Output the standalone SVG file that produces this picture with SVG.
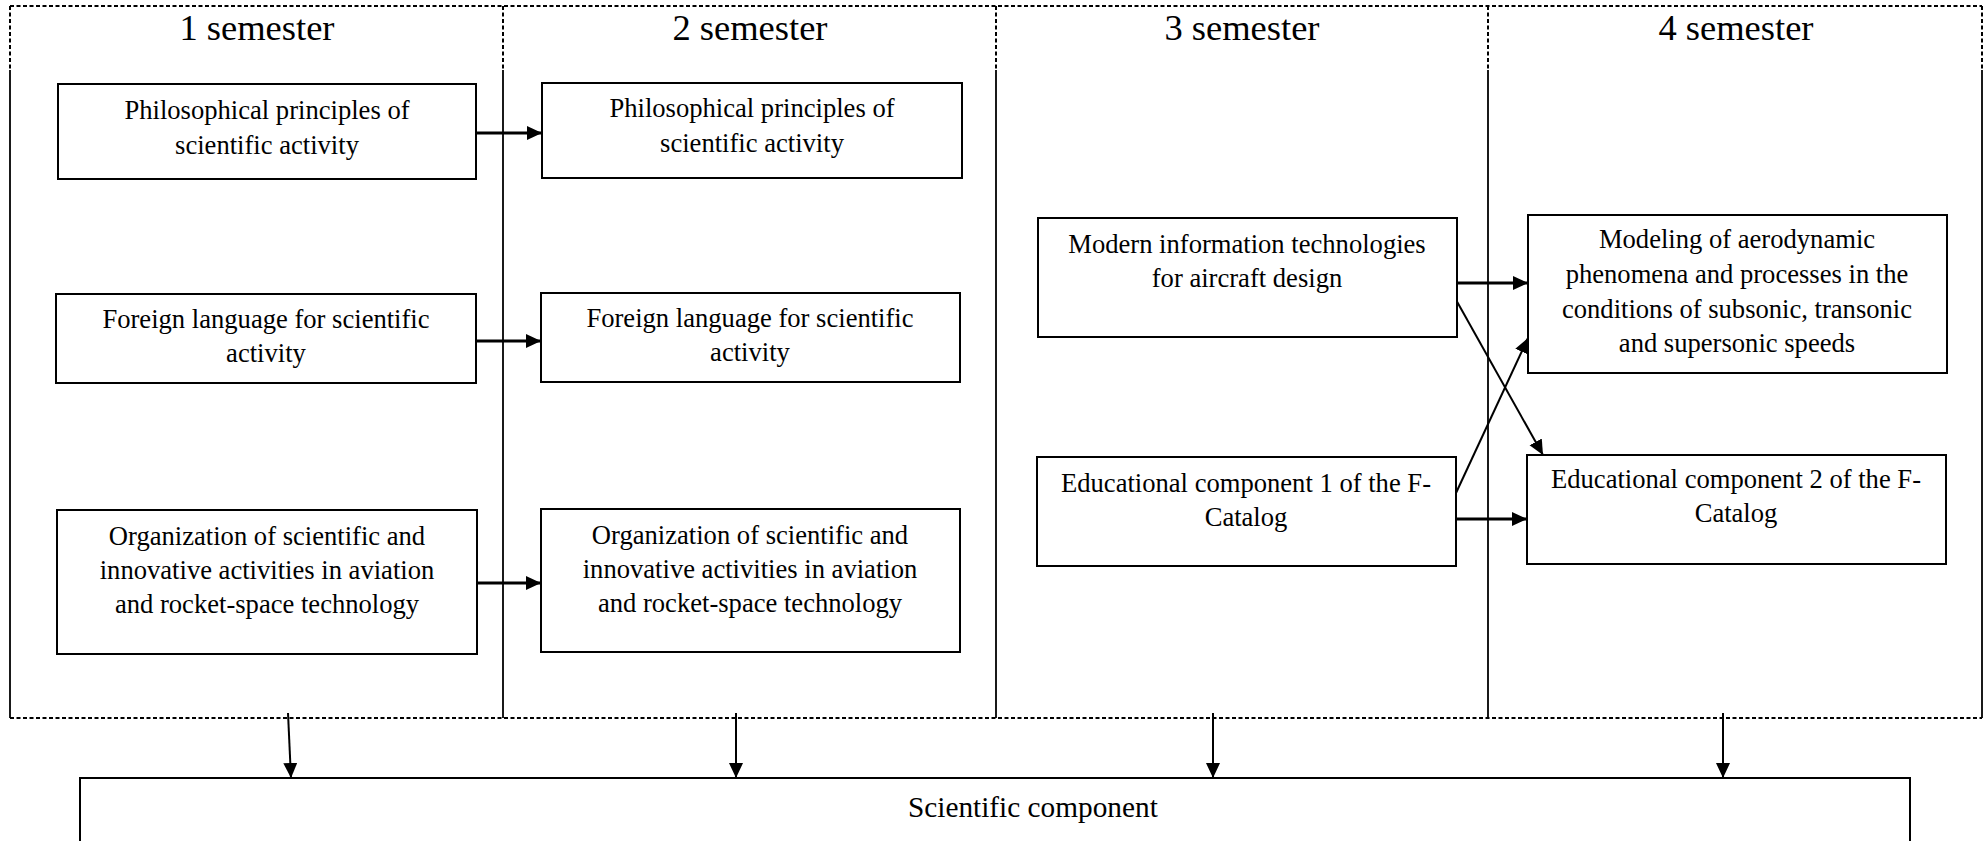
<svg xmlns="http://www.w3.org/2000/svg" width="1984" height="841" viewBox="0 0 1984 841">
<style>
  .bg{fill:#ffffff}
  .box{fill:#ffffff;stroke:#000;stroke-width:2}
  .t{font-family:"Liberation Serif","Times New Roman",serif;font-size:26.6px;fill:#000;text-anchor:middle}
  .hdr{font-family:"Liberation Serif","Times New Roman",serif;font-size:36.5px;fill:#000;text-anchor:middle}
  .sci{font-family:"Liberation Serif","Times New Roman",serif;font-size:29.3px;fill:#000}
  .dash{stroke:#000;stroke-width:2;stroke-dasharray:4 2.5;fill:none}
  .solid{stroke:#000;stroke-width:1.8;fill:none}
  .thick{stroke:#000;stroke-width:3;fill:none;marker-end:url(#ah)}
  .thin{stroke:#000;stroke-width:2;fill:none;marker-end:url(#ah)}
</style>
<defs>
  <marker id="ah" markerUnits="userSpaceOnUse" markerWidth="16" markerHeight="15" refX="15" refY="7" orient="auto">
    <path d="M0,0 L15,7 L0,14 z" fill="#000"/>
  </marker>
</defs>
<rect class="bg" x="0" y="0" width="1984" height="841"/>

<g id="table">
  <line class="dash" x1="10" y1="6" x2="1982" y2="6"/>
  <line class="dash" x1="10" y1="718" x2="1982" y2="718"/>
  <line class="dash" x1="10" y1="6" x2="10" y2="70"/>
  <line class="dash" x1="503" y1="6" x2="503" y2="70"/>
  <line class="dash" x1="996" y1="6" x2="996" y2="70"/>
  <line class="dash" x1="1488" y1="6" x2="1488" y2="70"/>
  <line class="dash" x1="1982" y1="6" x2="1982" y2="70"/>
  <line class="solid" x1="10" y1="70" x2="10" y2="718"/>
  <line class="solid" x1="503" y1="70" x2="503" y2="718"/>
  <line class="solid" x1="996" y1="70" x2="996" y2="718"/>
  <line class="solid" x1="1488" y1="70" x2="1488" y2="718"/>
  <line class="solid" x1="1982" y1="70" x2="1982" y2="718"/>
  <text class="hdr" x="257" y="40">1 semester</text>
  <text class="hdr" x="750" y="40">2 semester</text>
  <text class="hdr" x="1242" y="40">3 semester</text>
  <text class="hdr" x="1736" y="40">4 semester</text>
</g>

<g id="connectors">
  <line class="thick" x1="476" y1="133" x2="542" y2="133"/>
  <line class="thick" x1="476" y1="341" x2="541" y2="341"/>
  <line class="thick" x1="477" y1="583" x2="541" y2="583"/>
  <line class="thick" x1="1457" y1="283" x2="1528" y2="283"/>
  <line class="thick" x1="1456" y1="519" x2="1527" y2="519"/>
  <line class="thin" x1="1455" y1="298" x2="1543" y2="455"/>
  <line class="thin" x1="1456" y1="493" x2="1528" y2="338"/>
  <line class="thin" x1="288" y1="713" x2="291" y2="778"/>
  <line class="thin" x1="736" y1="713" x2="736" y2="778"/>
  <line class="thin" x1="1213" y1="713" x2="1213" y2="778"/>
  <line class="thin" x1="1723" y1="713" x2="1723" y2="778"/>
</g>

<g id="phil1">
  <rect class="box" x="58" y="84" width="418" height="95"/>
  <text class="t" x="267" y="119">Philosophical principles of</text>
  <text class="t" x="267" y="154">scientific activity</text>
</g>
<g id="phil2">
  <rect class="box" x="542" y="83" width="420" height="95"/>
  <text class="t" x="752" y="117">Philosophical principles of</text>
  <text class="t" x="752" y="152">scientific activity</text>
</g>
<g id="foreign1">
  <rect class="box" x="56" y="294" width="420" height="89"/>
  <text class="t" x="266" y="328">Foreign language for scientific</text>
  <text class="t" x="266" y="362">activity</text>
</g>
<g id="foreign2">
  <rect class="box" x="541" y="293" width="419" height="89"/>
  <text class="t" x="750" y="327">Foreign language for scientific</text>
  <text class="t" x="750" y="361">activity</text>
</g>
<g id="org1">
  <rect class="box" x="57" y="510" width="420" height="144"/>
  <text class="t" x="267" y="545">Organization of scientific and</text>
  <text class="t" x="267" y="579">innovative activities in aviation</text>
  <text class="t" x="267" y="613">and rocket-space technology</text>
</g>
<g id="org2">
  <rect class="box" x="541" y="509" width="419" height="143"/>
  <text class="t" x="750" y="544">Organization of scientific and</text>
  <text class="t" x="750" y="578">innovative activities in aviation</text>
  <text class="t" x="750" y="612">and rocket-space technology</text>
</g>
<g id="modern">
  <rect class="box" x="1038" y="218" width="419" height="119"/>
  <text class="t" x="1247" y="253">Modern information technologies</text>
  <text class="t" x="1247" y="287">for aircraft design</text>
</g>
<g id="edu1">
  <rect class="box" x="1037" y="457" width="419" height="109"/>
  <text class="t" x="1246" y="492">Educational component 1 of the F-</text>
  <text class="t" x="1246" y="526">Catalog</text>
</g>
<g id="modeling">
  <rect class="box" x="1528" y="215" width="419" height="158"/>
  <text class="t" x="1737" y="248">Modeling of aerodynamic</text>
  <text class="t" x="1737" y="283">phenomena and processes in the</text>
  <text class="t" x="1737" y="318">conditions of subsonic, transonic</text>
  <text class="t" x="1737" y="352">and supersonic speeds</text>
</g>
<g id="edu2">
  <rect class="box" x="1527" y="455" width="419" height="109"/>
  <text class="t" x="1736" y="488">Educational component 2 of the F-</text>
  <text class="t" x="1736" y="522">Catalog</text>
</g>
<g id="scientific">
  <rect class="box" x="80" y="778" width="1830" height="90"/>
  <text class="sci" x="908" y="817">Scientific component</text>
</g>
</svg>
